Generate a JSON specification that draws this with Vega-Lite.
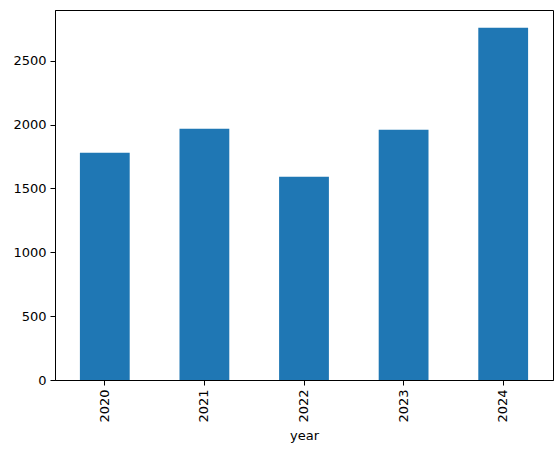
{
  "$schema": "https://vega.github.io/schema/vega-lite/v6.json",
  "width": 498,
  "height": 370,
  "autosize": "none",
  "padding": {"left": 55, "top": 10, "right": 7, "bottom": 74},
  "background": "white",
  "config": {
    "view": {"stroke": "black", "strokeWidth": 1},
    "font": "DejaVu Sans",
    "axis": {
      "labelFont": "DejaVu Sans",
      "titleFont": "DejaVu Sans",
      "labelFontSize": 13,
      "titleFontSize": 13,
      "labelColor": "black",
      "titleColor": "black",
      "titleFontWeight": "normal",
      "domainColor": "black",
      "tickColor": "black",
      "tickSize": 5,
      "grid": false
    }
  },
  "data": {
    "values": [
      {"year": "2020", "value": 1780},
      {"year": "2021", "value": 1968},
      {"year": "2022", "value": 1592},
      {"year": "2023", "value": 1960},
      {"year": "2024", "value": 2759}
    ]
  },
  "mark": {"type": "bar", "color": "#1f77b4"},
  "encoding": {
    "x": {
      "field": "year",
      "type": "nominal",
      "scale": {"paddingInner": 0.5, "paddingOuter": 0.25},
      "axis": {"labelAngle": -90, "title": "year", "titlePadding": 7, "labelPadding": 4}
    },
    "y": {
      "field": "value",
      "type": "quantitative",
      "scale": {"domain": [0, 2897], "nice": false},
      "axis": {"values": [0, 500, 1000, 1500, 2000, 2500], "format": "d", "title": null, "labelPadding": 4}
    }
  }
}
